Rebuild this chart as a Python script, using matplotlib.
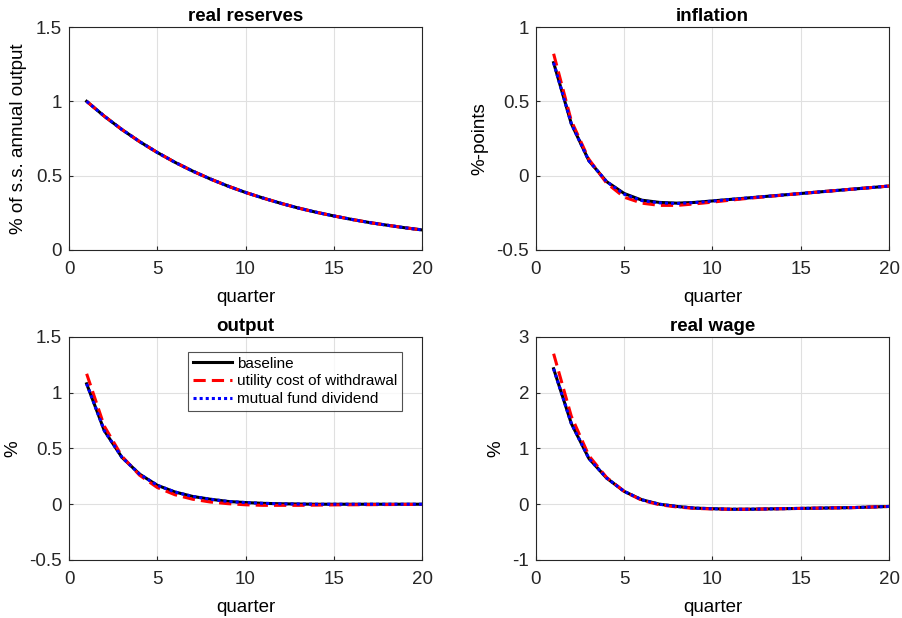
import numpy as np
import matplotlib.pyplot as plt

# -------------------------
# DATA
# -------------------------
quarter = np.arange(1, 21)

reserves_base = [1.000, 0.900, 0.810, 0.729, 0.656, 0.590, 0.531, 0.478, 0.430, 0.387,
                 0.349, 0.314, 0.282, 0.254, 0.229, 0.206, 0.185, 0.167, 0.150, 0.135]
reserves_util = reserves_base
reserves_mf = reserves_base

infl_base = [0.76, 0.35, 0.10, -0.04, -0.12, -0.165, -0.180, -0.185, -0.180, -0.170,
             -0.160, -0.150, -0.140, -0.130, -0.120, -0.110, -0.100, -0.090, -0.080, -0.070]
infl_util = [0.82, 0.37, 0.11, -0.05, -0.145, -0.185, -0.200, -0.200, -0.190, -0.178,
             -0.165, -0.153, -0.142, -0.131, -0.120, -0.110, -0.100, -0.090, -0.080, -0.070]
infl_mf = [0.76, 0.35, 0.10, -0.04, -0.125, -0.168, -0.183, -0.187, -0.181, -0.171,
           -0.160, -0.150, -0.140, -0.130, -0.120, -0.110, -0.100, -0.090, -0.080, -0.070]

out_base = [1.08, 0.66, 0.42, 0.27, 0.17, 0.11, 0.07, 0.045, 0.025, 0.015,
            0.008, 0.004, 0.002, 0.0, 0.0, 0.0, 0.0, 0.0, 0.0, 0.0]
out_util = [1.17, 0.70, 0.43, 0.26, 0.15, 0.085, 0.045, 0.02, 0.005, -0.005,
            -0.01, -0.01, -0.01, -0.008, -0.006, -0.005, -0.004, -0.003, -0.002, -0.002]
out_mf = [1.08, 0.66, 0.42, 0.27, 0.17, 0.11, 0.07, 0.045, 0.025, 0.015,
          0.008, 0.004, 0.002, 0.0, 0.0, 0.0, 0.0, 0.0, 0.0, 0.0]

wage_base = [2.43, 1.45, 0.82, 0.47, 0.23, 0.08, 0.0, -0.04, -0.07, -0.08,
             -0.09, -0.09, -0.085, -0.08, -0.075, -0.07, -0.065, -0.06, -0.05, -0.04]
wage_util = [2.70, 1.58, 0.87, 0.48, 0.23, 0.07, -0.01, -0.05, -0.075, -0.085,
             -0.09, -0.09, -0.085, -0.08, -0.075, -0.07, -0.065, -0.06, -0.05, -0.04]
wage_mf = wage_base

panels = [
    ("real reserves", "% of s.s. annual output", (0, 1.5), [0, 0.5, 1, 1.5],
     reserves_base, reserves_util, reserves_mf),
    ("inflation", "%-points", (-0.5, 1), [-0.5, 0, 0.5, 1],
     infl_base, infl_util, infl_mf),
    ("output", "%", (-0.5, 1.5), [-0.5, 0, 0.5, 1, 1.5],
     out_base, out_util, out_mf),
    ("real wage", "%", (-1, 3), [-1, 0, 1, 2, 3],
     wage_base, wage_util, wage_mf),
]

plt.rcParams['font.family'] = ['Liberation Sans', 'DejaVu Sans']
plt.rcParams['font.size'] = 13.5

fig = plt.figure(figsize=(9.02, 6.18), dpi=100)
rects = [
    [0.0765, 0.5955, 0.3914, 0.3608],
    [0.5942, 0.5955, 0.3914, 0.3608],
    [0.0765, 0.0939, 0.3914, 0.3608],
    [0.5942, 0.0939, 0.3914, 0.3608],
]

for i, (title, ylab, ylim, yticks, b, u, m) in enumerate(panels):
    ax = fig.add_axes(rects[i])
    ax.plot(quarter, b, color='black', lw=2.2, ls='-', label='baseline')
    ax.plot(quarter, u, color='red', lw=2.2, ls='--', dashes=(4, 2),
            label='utility cost of withdrawal')
    ax.plot(quarter, m, color='blue', lw=2.2, ls=':', dashes=(1, 1),
            label='mutual fund dividend')
    ax.set_xlim(0, 20)
    ax.set_ylim(*ylim)
    ax.set_xticks([0, 5, 10, 15, 20])
    ax.set_yticks(yticks)
    ax.set_yticklabels([f"{t:g}" for t in yticks])
    ax.grid(True, color='#e0e0e0', lw=0.8)
    ax.set_axisbelow(True)
    ax.tick_params(direction='in', length=3, colors='#262626', labelcolor='#262626')
    ax.tick_params(axis='x', pad=8)
    ax.tick_params(axis='y', pad=5)
    for s in ax.spines.values():
        s.set_color('#262626')
        s.set_linewidth(0.8)
    ax.set_title(title, fontweight='bold', fontsize=13.5, pad=4)
    ax.set_xlabel('quarter', labelpad=8)
    ax.set_ylabel(ylab, labelpad=6)
    if title == "output":
        leg = ax.legend(loc='upper left', bbox_to_anchor=(0.337, 0.933), fontsize=11,
                        frameon=True, fancybox=False, edgecolor='#262626',
                        handlelength=2.6, handletextpad=0.3, borderpad=0.3,
                        labelspacing=0.25, borderaxespad=0)
        leg.get_frame().set_linewidth(0.8)

fig.savefig("out.png", dpi=100)
